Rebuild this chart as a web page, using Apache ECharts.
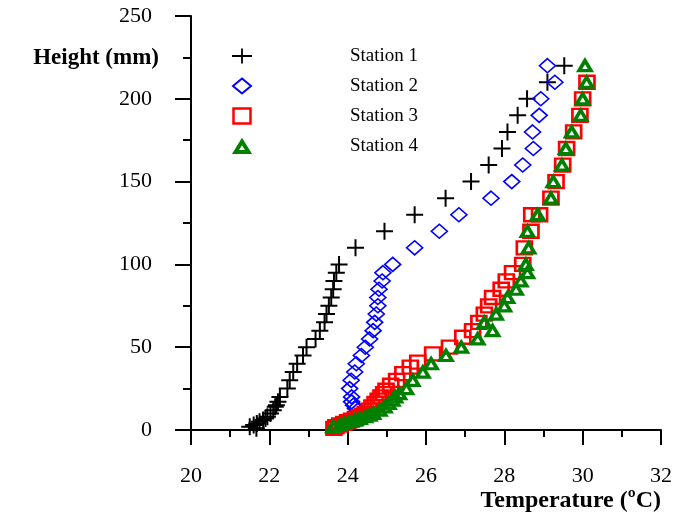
<!DOCTYPE html>
<html>
<head>
<meta charset="utf-8">
<script src="https://cdn.jsdelivr.net/npm/echarts@6/dist/echarts.min.js"></script>
<style>html,body{margin:0;padding:0;background:#fff;}#c{width:675px;height:518px;}</style>
</head>
<body>
<div id="c"></div>
<script>
// ---- Data (Temperature °C, Height mm) ----
const seriesNames = ['Station 1', 'Station 2', 'Station 3', 'Station 4'];
const xTicks = [20, 22, 24, 26, 28, 30, 32];
const yTicks = [0, 50, 100, 150, 200, 250];

const st1H = [1, 2, 3, 4, 5, 6, 7, 8, 10, 12, 14, 15, 17, 20, 25, 30, 35, 40, 45, 50, 55, 60, 65, 70, 75, 80, 85, 90, 95, 100, 110, 120, 130, 140, 150, 160, 170, 180, 190, 200, 210, 220];
const st1T = [21.67, 21.50, 21.60, 21.68, 21.75, 21.84, 21.90, 21.95, 22.03, 22.10, 22.15, 22.18, 22.22, 22.27, 22.46, 22.52, 22.61, 22.71, 22.86, 22.95, 23.18, 23.29, 23.41, 23.46, 23.52, 23.58, 23.63, 23.65, 23.71, 23.78, 24.20, 24.94, 25.71, 26.50, 27.15, 27.60, 27.94, 28.08, 28.34, 28.58, 29.10, 29.53];

const st2H = [13, 15, 17, 20, 25, 30, 35, 40, 45, 50, 55, 60, 65, 70, 75, 80, 85, 90, 95, 100, 110, 120, 130, 140, 150, 160, 170, 180, 190, 200, 210, 220];
const st2T = [24.20, 24.15, 24.10, 24.10, 24.05, 24.09, 24.18, 24.22, 24.35, 24.45, 24.56, 24.65, 24.69, 24.73, 24.77, 24.77, 24.80, 24.88, 24.90, 25.15, 25.71, 26.34, 26.84, 27.66, 28.19, 28.47, 28.74, 28.72, 28.89, 28.93, 29.29, 29.10];

const st3H = [1, 2, 3, 4, 5, 6, 7, 8, 9, 10, 12, 14, 16, 18, 20, 22, 24, 27, 30, 34, 38, 41, 46, 50, 56, 60, 65, 70, 75, 80, 85, 90, 95, 100, 110, 120, 130, 130, 140, 150, 160, 170, 180, 190, 200, 210];
const st3T = [23.65, 23.70, 23.80, 23.90, 24.00, 24.10, 24.20, 24.30, 24.38, 24.45, 24.55, 24.62, 24.70, 24.78, 24.85, 24.92, 24.98, 25.10, 25.25, 25.41, 25.60, 25.79, 26.17, 26.60, 26.94, 27.19, 27.35, 27.49, 27.60, 27.70, 27.92, 28.05, 28.21, 28.47, 28.51, 28.68, 28.70, 28.90, 29.19, 29.32, 29.49, 29.59, 29.77, 29.93, 30.00, 30.11];

const st4H = [2, 3, 4, 5, 6, 7, 8, 9, 10, 12, 14, 16, 18, 20, 22, 25, 30, 35, 40, 45, 50, 55, 60, 65, 70, 75, 80, 85, 90, 95, 100, 110, 120, 130, 140, 150, 160, 170, 180, 190, 200, 210, 220];
const st4T = [23.63, 23.80, 23.92, 24.05, 24.18, 24.31, 24.45, 24.56, 24.66, 24.82, 24.95, 25.05, 25.15, 25.22, 25.32, 25.50, 25.66, 25.92, 26.13, 26.51, 26.90, 27.32, 27.70, 27.49, 27.79, 28.00, 28.08, 28.30, 28.42, 28.59, 28.55, 28.62, 28.59, 28.85, 29.19, 29.25, 29.47, 29.57, 29.72, 29.95, 30.00, 30.10, 30.06];

function zip(t, h) { return t.map((v, i) => [v, h[i]]); }

const SERIF = '"Liberation Serif", "DejaVu Serif", serif';
const PLUS = 'path://M0,5L10,5M5,0L5,10';
const PLUS_LEG = 'path://M0,0M20,17M0,8.5L20,8.5M10,1L10,16';
const DIAMOND_LEG = 'path://M0,0M20,17M10,1L19,8.5L10,16L1,8.5Z';
const RECT_LEG = 'path://M0,0M20,17M1.5,1L18.5,1L18.5,16L1.5,16Z';
const TRI_LEG = 'path://M0,0M20,17M3.5,14L10,3.5L16.5,14Z';

const chart = echarts.init(document.getElementById('c'), null, { renderer: 'canvas' });
chart.setOption({
  animation: false,
  backgroundColor: '#fff',
  grid: { left: 191, right: 13, top: 16, bottom: 88, containLabel: false },
  legend: {
    orient: 'vertical',
    left: 225,
    top: 41,
    itemWidth: 20,
    itemHeight: 17,
    itemGap: 10,
    textStyle: { fontFamily: SERIF, fontSize: 19, color: '#000', lineHeight: 20, padding: [0, 0, 0, 93] },
    data: [
      { name: 'Station 1', icon: PLUS_LEG, itemStyle: { color: 'transparent', borderColor: '#000', borderWidth: 1.8 } },
      { name: 'Station 2', icon: DIAMOND_LEG, itemStyle: { color: 'transparent', borderColor: '#0000ff', borderWidth: 2 } },
      { name: 'Station 3', icon: RECT_LEG, itemStyle: { color: 'transparent', borderColor: '#ff0000', borderWidth: 2.5 } },
      { name: 'Station 4', icon: TRI_LEG, itemStyle: { color: 'transparent', borderColor: '#008000', borderWidth: 4 } }
    ]
  },
  xAxis: {
    type: 'value', min: xTicks[0], max: xTicks[xTicks.length - 1], interval: 2,
    name: 'Temperature (ºC)', nameLocation: 'end', nameGap: 0,
    nameTextStyle: { fontFamily: SERIF, fontSize: 24, fontWeight: 'bold', color: '#000', align: 'right', verticalAlign: 'top', padding: [59, 0, 0, 0] },
    axisLine: { show: true, onZero: false, lineStyle: { color: '#000', width: 2 } },
    axisTick: { show: true, inside: false, length: 15, lineStyle: { color: '#000', width: 2 } },
    minorTick: { show: true, splitNumber: 2, length: 7, lineStyle: { color: '#000', width: 2 } },
    axisLabel: { fontFamily: SERIF, fontSize: 22, color: '#000', margin: 35 },
    splitLine: { show: false }
  },
  yAxis: {
    type: 'value', min: yTicks[0], max: yTicks[yTicks.length - 1], interval: 50,
    name: 'Height (mm)', nameLocation: 'end', nameGap: -42,
    nameTextStyle: { fontFamily: SERIF, fontSize: 23, fontWeight: 'bold', color: '#000', align: 'right', verticalAlign: 'middle', padding: [0, 32, 0, 0] },
    axisLine: { show: true, onZero: false, lineStyle: { color: '#000', width: 2 } },
    axisTick: { show: true, inside: false, length: 16, lineStyle: { color: '#000', width: 2 } },
    minorTick: { show: true, splitNumber: 2, length: 8, lineStyle: { color: '#000', width: 2 } },
    axisLabel: { fontFamily: SERIF, fontSize: 22, color: '#000', margin: 39 },
    splitLine: { show: false }
  },
  series: [
    { name: seriesNames[0], type: 'scatter', symbol: PLUS, symbolSize: 17,
      itemStyle: { color: 'transparent', borderColor: '#000', borderWidth: 2, opacity: 1 },
      data: zip(st1T, st1H) },
    { name: seriesNames[1], type: 'scatter', symbol: 'diamond', symbolSize: [16, 14],
      itemStyle: { color: 'transparent', borderColor: '#0000ff', borderWidth: 1.6, opacity: 1 },
      data: zip(st2T, st2H) },
    { name: seriesNames[2], type: 'scatter', symbol: 'rect', symbolSize: [15, 13],
      itemStyle: { color: 'transparent', borderColor: '#ff0000', borderWidth: 2.5, opacity: 1 },
      data: zip(st3T, st3H) },
    { name: seriesNames[3], type: 'scatter', symbol: 'triangle', symbolSize: [12, 10],
      itemStyle: { color: 'transparent', borderColor: '#008000', borderWidth: 3.5, opacity: 1 },
      data: zip(st4T, st4H) }
  ]
});
</script>
</body>
</html>
